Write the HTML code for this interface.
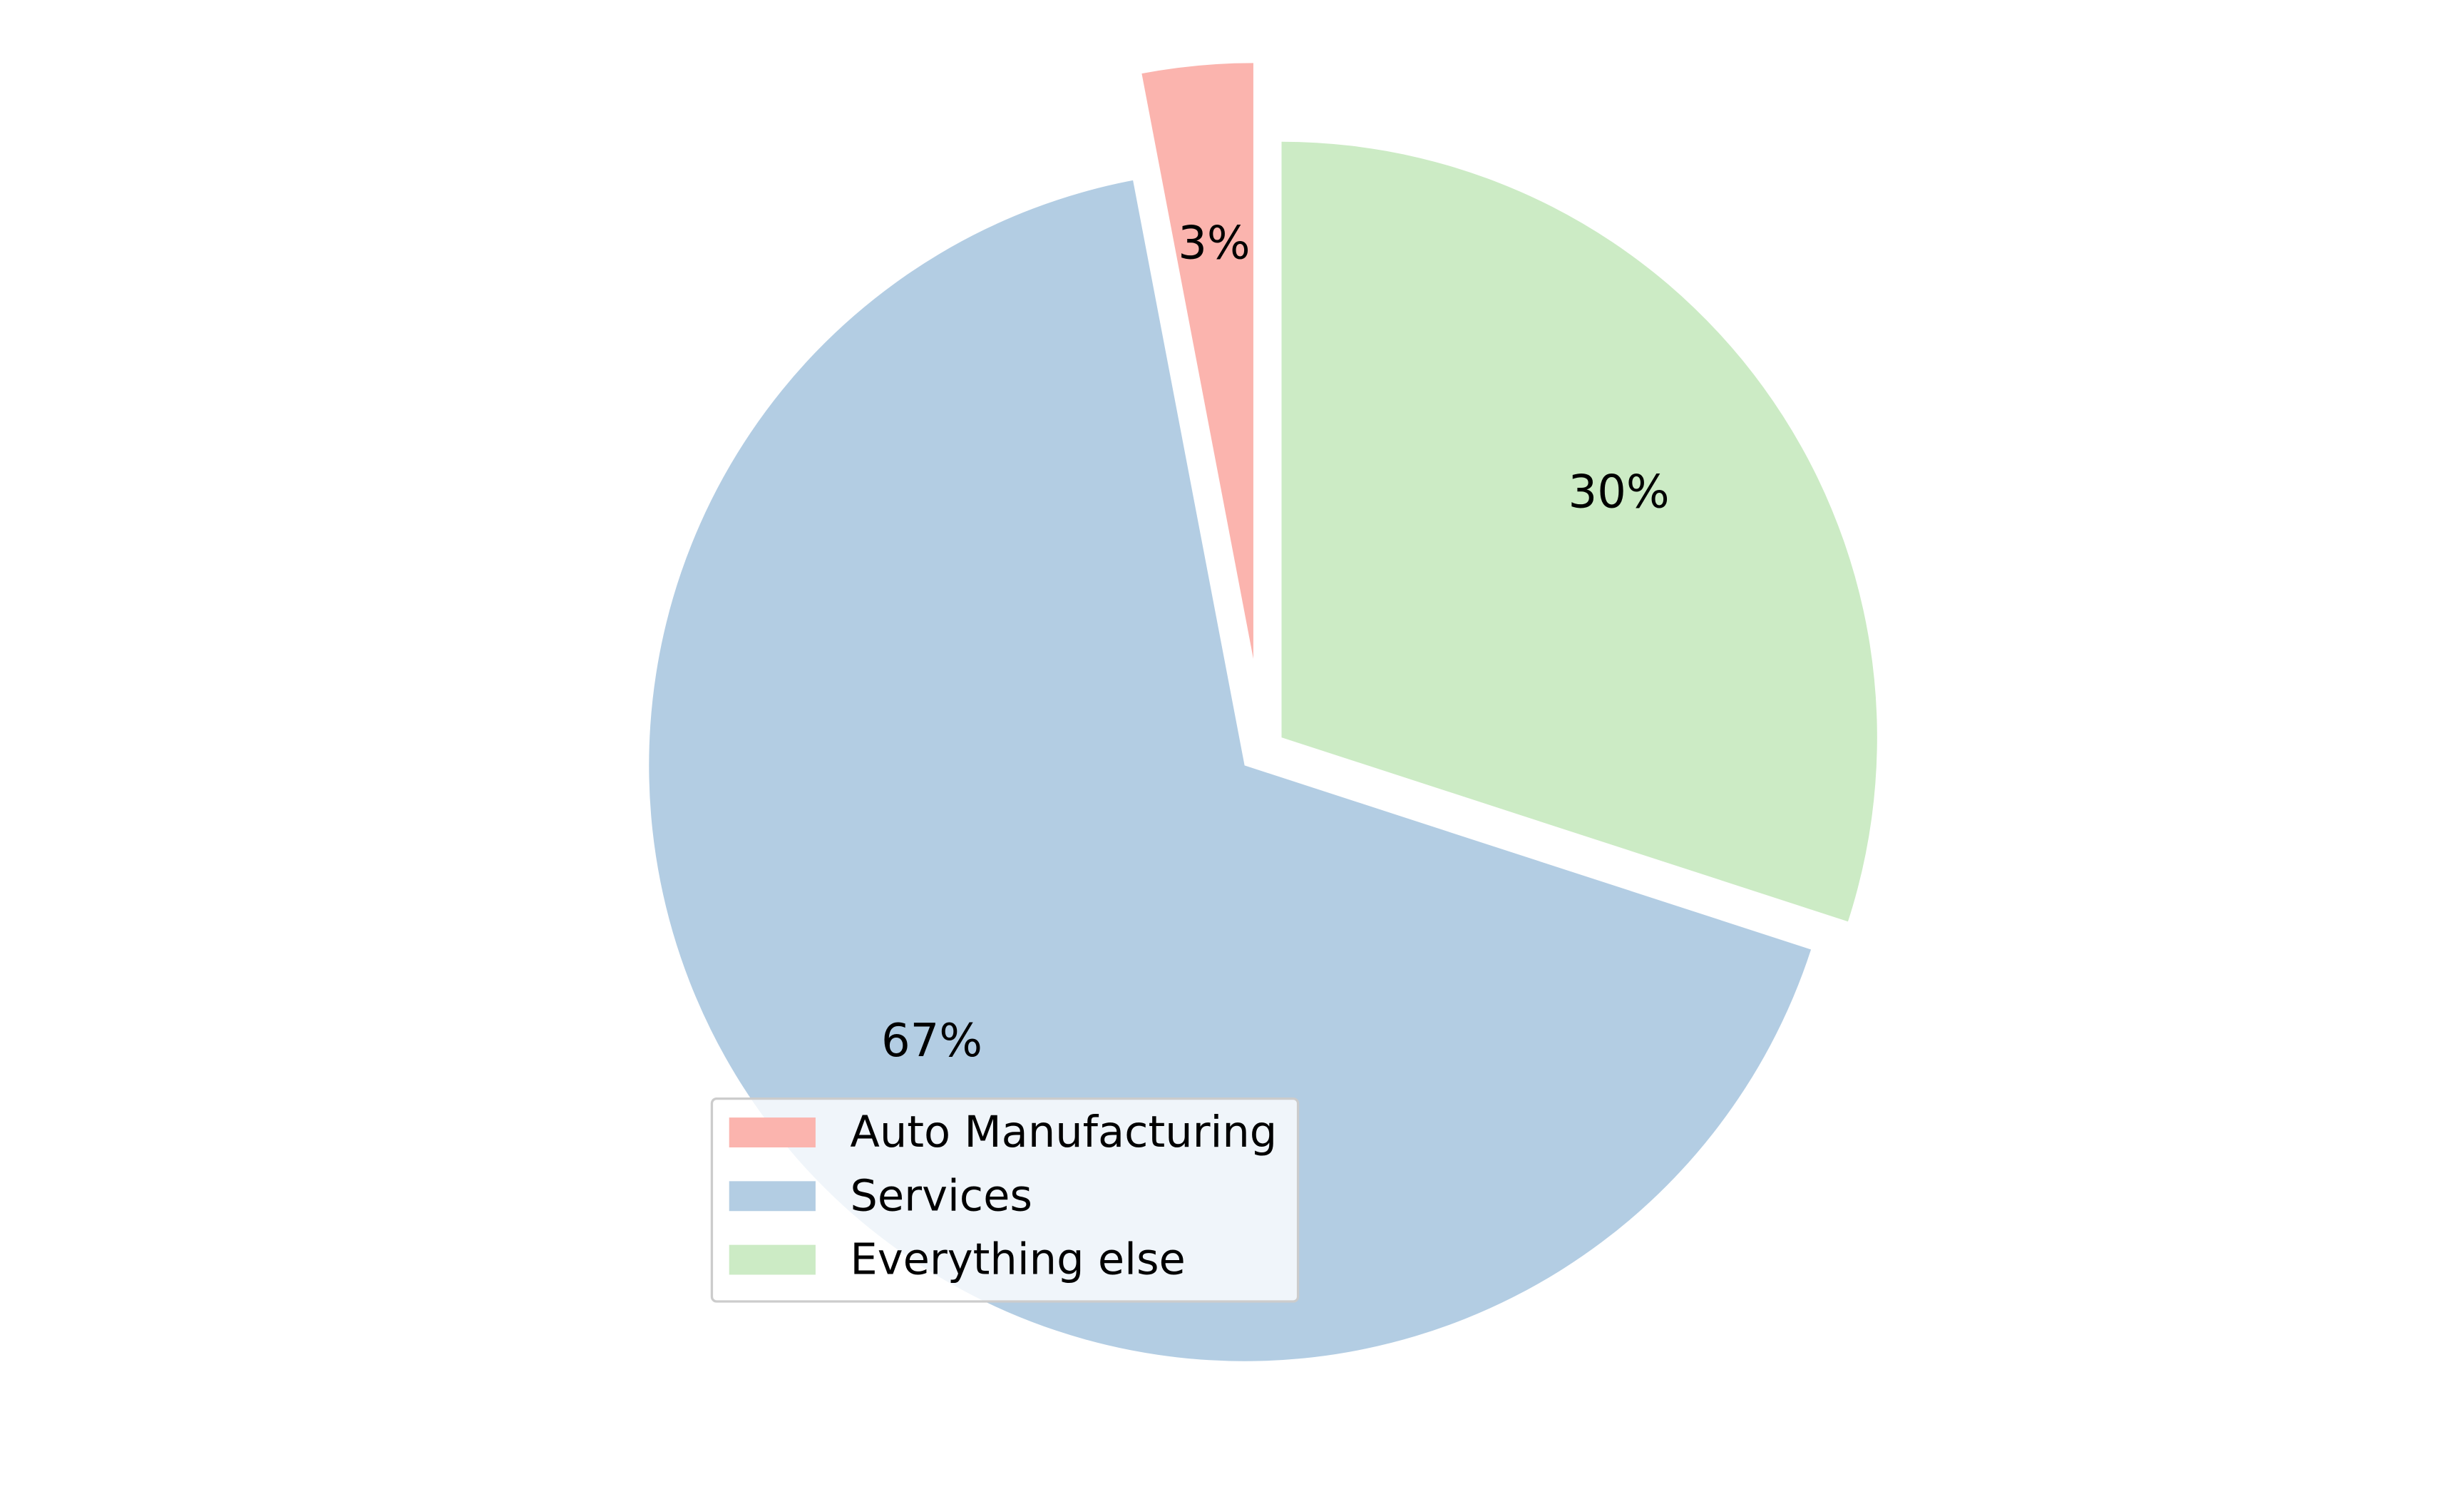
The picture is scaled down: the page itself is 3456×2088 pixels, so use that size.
<!DOCTYPE html>
<html><head><meta charset="utf-8"><style>html,body{margin:0;padding:0;background:#fff}svg{display:block}</style></head>
<body>
<svg id="chart" width="3456" height="2088" viewBox="0 0 1568 947.33" xmlns="http://www.w3.org/2000/svg" font-family="'DejaVu Sans','Liberation Sans',sans-serif">
<g id="wedges"></g>
<g id="labels"></g>
<g id="legend"></g>
</svg>
<script>
const categories = ["Auto Manufacturing", "Services", "Everything else"];
const values = [3, 67, 30];
const explode = [0.18, 0, 0.08];
const colors = ["#fbb4ae", "#b3cde3", "#ccebc5"];
const NS = "http://www.w3.org/2000/svg";
const cx = 792, cy = 487, R = 379, pctDist = 0.7;
const shiftX = [12, 0, -1];
const total = values.reduce((a, b) => a + b, 0);
const wg = document.getElementById('wedges'), lg = document.getElementById('labels'), leg = document.getElementById('legend');
let start = 90;
values.forEach((v, i) => {
  const sweep = v / total * 360, end = start + sweep, mid = (start + end) / 2;
  const mr = mid * Math.PI / 180;
  const ox = cx + shiftX[i] + explode[i] * R * Math.cos(mr), oy = cy - explode[i] * R * Math.sin(mr);
  const a0 = start * Math.PI / 180, a1 = end * Math.PI / 180;
  const x0 = ox + R * Math.cos(a0), y0 = oy - R * Math.sin(a0);
  const x1 = ox + R * Math.cos(a1), y1 = oy - R * Math.sin(a1);
  const p = document.createElementNS(NS, 'path');
  p.setAttribute('d', `M${ox},${oy} L${x0},${y0} A${R},${R} 0 ${sweep > 180 ? 1 : 0} 0 ${x1},${y1} Z`);
  p.setAttribute('fill', colors[i]);
  
  
  wg.appendChild(p);
  const t = document.createElementNS(NS, 'text');
  t.setAttribute('x', ox + pctDist * R * Math.cos(mr));
  t.setAttribute('y', oy - pctDist * R * Math.sin(mr));
  t.setAttribute('text-anchor', 'middle');
  t.setAttribute('dominant-baseline', 'central');
  t.setAttribute('font-size', '29');
  t.setAttribute('fill', '#000');
  t.textContent = Math.round(v / total * 100) + '%';
  
  
  lg.appendChild(t);
  start = end;
});
const box = document.createElementNS(NS, 'rect');
box.setAttribute('x', 453); box.setAttribute('y', 699); box.setAttribute('width', 373); box.setAttribute('height', 129);
box.setAttribute('rx', 3); box.setAttribute('fill', 'rgba(255,255,255,0.8)'); box.setAttribute('stroke', '#cccccc'); box.setAttribute('stroke-width', 1.5);


leg.appendChild(box);
categories.forEach((c, i) => {
  const y = 711 + i * 40.5;
  const r = document.createElementNS(NS, 'rect');
  r.setAttribute('x', 464); r.setAttribute('y', y); r.setAttribute('width', 55); r.setAttribute('height', 19);
  r.setAttribute('fill', colors[i]);
  
  
  leg.appendChild(r);
  const t = document.createElementNS(NS, 'text');
  t.setAttribute('x', 541); t.setAttribute('y', y + 9.5);
  t.setAttribute('dominant-baseline', 'central');
  t.setAttribute('font-size', '27.5'); t.setAttribute('fill', '#000');
  t.textContent = c;
  
  
  leg.appendChild(t);
});
</script>
</body></html>
